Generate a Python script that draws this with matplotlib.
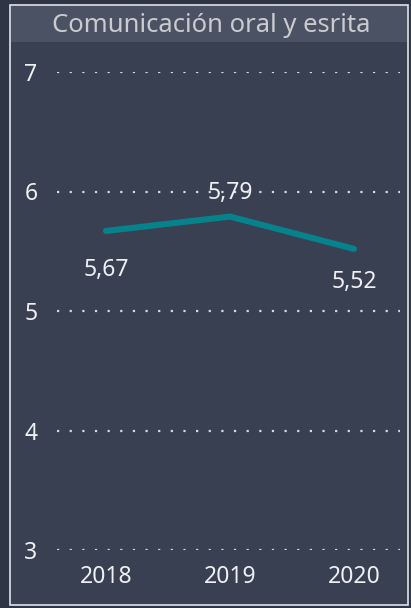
import matplotlib
matplotlib.use("Agg")
import matplotlib.pyplot as plt
from matplotlib.patches import Rectangle

years = [2018, 2019, 2020]
values = [5.67, 5.79, 5.52]
labels = ["5,67", "5,79", "5,52"]
label_dy = [-28, 17, -24]
y_ticks = [3, 4, 5, 6, 7]
title = "Comunicación oral y esrita"

plt.rcParams['font.family'] = ['Noto Sans', 'DejaVu Sans']
plt.rcParams['lines.scale_dashes'] = False

W, H = 411, 608
fig = plt.figure(figsize=(W / 100, H / 100), dpi=100, facecolor="#2f3545")

def px(x0, y0, x1, y1):
    # pixel box (top-left origin) -> figure fraction
    return [x0 / W, 1 - y1 / H, (x1 - x0) / W, (y1 - y0) / H]

# panel background + border
b = px(10, 5, 408, 605)
fig.patches.append(Rectangle((b[0], b[1]), b[2], b[3], transform=fig.transFigure,
                             facecolor="#394051", edgecolor="#dfe3ea", lw=1.2, zorder=-2))
t = px(11, 6, 407, 42)
fig.patches.append(Rectangle((t[0], t[1]), t[2], t[3], transform=fig.transFigure,
                             facecolor="#4b5263", edgecolor="none", zorder=-1))
fig.text(211 / W, 1 - 26 / H, title, ha="center", va="center", color="#c9cbcf", fontsize=18.5)

ax = fig.add_axes(px(57, 72, 400, 550))
ax.set_zorder(2)
ax.set_facecolor("none")
ax.set_xlim(2017.605, 2020.371)
ax.set_ylim(3, 7)

for yv in y_ticks:
    ax.axhline(yv, color="#d4d8df", lw=1.6, dashes=(1.6, 7.5), zorder=1)

ax.plot(years, values, color="#05828c", lw=4.4, solid_capstyle="round", zorder=3)

for x, v, s, dy in zip(years, values, labels, label_dy):
    ax.annotate(s, (x, v), xytext=(0, dy), textcoords="offset points",
                ha="center", va="center", color="#eef0f4", fontsize=16.5, zorder=4)

ax.set_xticks(years)
ax.set_xticklabels([str(y) for y in years])
ax.set_yticks(y_ticks)
ax.tick_params(length=0, colors="#eef0f4", labelsize=16.5)
ax.tick_params(axis="y", pad=14)
ax.tick_params(axis="x", pad=11)
for sp in ax.spines.values():
    sp.set_visible(False)

fig.savefig("out.png", dpi=100, facecolor=fig.get_facecolor())
